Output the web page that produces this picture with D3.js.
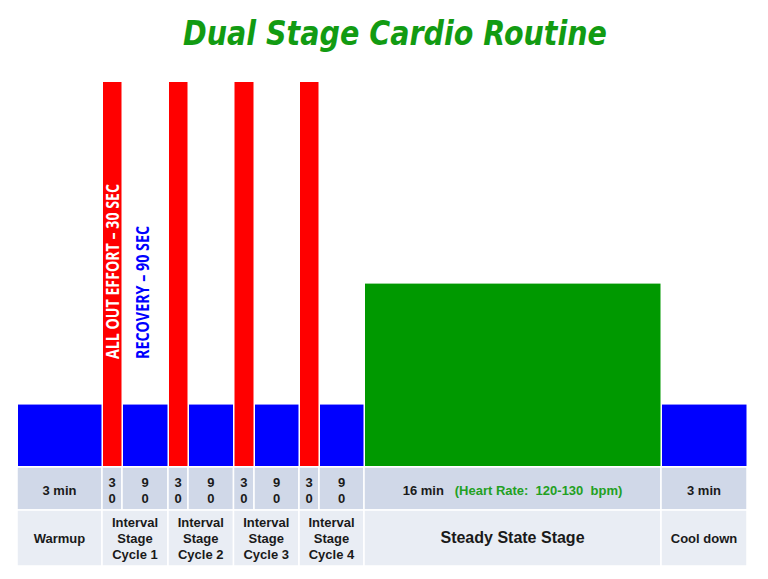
<!DOCTYPE html>
<html>
<head>
<meta charset="utf-8">
<script src="https://cdn.jsdelivr.net/npm/d3@7"></script>
<style>
  html, body { margin: 0; padding: 0; background: #fff; }
  svg { display: block; }
</style>
</head>
<body>
<svg id="chart" width="768" height="579"></svg>
<script>
// ---------------- data ----------------
const title = "Dual Stage Cardio Routine";
const phases = ["warmup","effort","recovery","effort","recovery","effort","recovery","effort","recovery","steady","cooldown"];
const durationsSec = [180, 30, 90, 30, 90, 30, 90, 30, 90, 960, 180];
const intensity = [16, 100, 16, 100, 16, 100, 16, 100, 16, 47.5, 16];
const durationLabels = ["3 min","30","90","30","90","30","90","30","90","16 min","3 min"];
const stageNames = [["Warmup"],["Interval","Stage","Cycle 1"],["Interval","Stage","Cycle 2"],["Interval","Stage","Cycle 3"],["Interval","Stage","Cycle 4"],["Steady State Stage"],["Cool down"]];
const stageSpans = [1, 2, 2, 2, 2, 1, 1];
const heartRateNote = "(Heart Rate:  120-130  bpm)";
const effortNote = "ALL OUT EFFORT \u2013 30 SEC";
const recoveryNote = "RECOVERY \u2013 90 SEC";

// ---------------- layout / style ----------------
const colors = { warmup: "#0000ff", effort: "#ff0000", recovery: "#0000ff", steady: "#009900", cooldown: "#0000ff" };
const svg = d3.select("#chart");

// cumulative time breakpoints (seconds)
const cum = [0];
durationsSec.forEach(d => cum.push(cum[cum.length - 1] + d));
// piecewise (polylinear) time scale: the chart gives short intervals more room
const x = d3.scaleLinear()
  .domain(cum)
  .range([17, 102, 122, 168, 188, 233.5, 254, 299, 319, 364, 661, 747]);
const y = d3.scaleLinear().domain([0, 100]).range([466, 82]);

const segs = phases.map((p, i) => ({ phase: p, start: cum[i], end: cum[i + 1], value: intensity[i], label: durationLabels[i] }));

// ---------------- title ----------------
svg.append("text")
  .attr("x", 395).attr("y", 45)
  .attr("text-anchor", "middle")
  .attr("font-family", "'DejaVu Sans', Verdana, sans-serif")
  .attr("font-weight", "bold").attr("font-style", "italic")
  .attr("font-size", 33)
  .attr("textLength", 424).attr("lengthAdjust", "spacingAndGlyphs")
  .attr("fill", "#129b12")
  .text(title);

// ---------------- bars ----------------
svg.append("g").selectAll("rect").data(segs).join("rect")
  .attr("x", d => x(d.start) + 1)
  .attr("width", d => x(d.end) - x(d.start) - 1.5)
  .attr("y", d => y(d.value))
  .attr("height", d => y(0) - y(d.value))
  .attr("fill", d => colors[d.phase]);

// rotated notes
const e1 = segs[1], r1 = segs[2];
svg.append("text")
  .attr("transform", `translate(${(x(e1.start) + x(e1.end)) / 2 + 6.5},359) rotate(-90)`)
  .attr("font-family", "'Liberation Sans Narrow', 'Open Sans', sans-serif")
  .attr("font-weight", "bold").attr("font-size", 17.5)
  .attr("textLength", 175).attr("lengthAdjust", "spacingAndGlyphs")
  .attr("fill", "#ffffff")
  .text(effortNote);
svg.append("text")
  .attr("transform", `translate(${(x(r1.start) + x(r1.end)) / 2 + 3.5},359) rotate(-90)`)
  .attr("font-family", "'Liberation Sans Narrow', 'Open Sans', sans-serif")
  .attr("font-weight", "bold").attr("font-size", 17.5)
  .attr("textLength", 133).attr("lengthAdjust", "spacingAndGlyphs")
  .attr("fill", "#0000ff")
  .text(recoveryNote);

// ---------------- table ----------------
const row1Top = 467, row1Bot = 510, row2Top = 510, row2Bot = 566;
const table = svg.append("g").attr("font-family", "Arial, 'Liberation Sans', sans-serif").attr("font-weight", "bold").attr("fill", "#1a1a1a");

// row 1 cells
table.selectAll("rect.r1").data(segs).join("rect")
  .attr("class", "r1")
  .attr("x", d => x(d.start)).attr("width", d => x(d.end) - x(d.start))
  .attr("y", row1Top).attr("height", row1Bot - row1Top)
  .attr("fill", "#d0d8e8").attr("stroke", "#ffffff").attr("stroke-width", 1.5);

// row 2 cells (stages)
let idx = 0;
const stages = stageSpans.map((n, i) => {
  const s = { name: stageNames[i], start: cum[idx], end: cum[idx + n] };
  idx += n; return s;
});
table.selectAll("rect.r2").data(stages).join("rect")
  .attr("class", "r2")
  .attr("x", d => x(d.start)).attr("width", d => x(d.end) - x(d.start))
  .attr("y", row2Top).attr("height", row2Bot - row2Top)
  .attr("fill", "#e9edf4").attr("stroke", "#ffffff").attr("stroke-width", 1.5);

// row 1 labels
segs.forEach((d, i) => {
  const cx = (x(d.start) + x(d.end)) / 2;
  if (d.phase === "effort" || d.phase === "recovery") {
    const digits = d.label.split("");
    table.append("text").attr("x", cx).attr("y", 487).attr("text-anchor", "middle").attr("font-size", 13).text(digits[0]);
    table.append("text").attr("x", cx).attr("y", 503).attr("text-anchor", "middle").attr("font-size", 13).text(digits[1]);
  } else if (d.phase === "steady") {
    const t = table.append("text").attr("x", cx).attr("y", 495).attr("text-anchor", "middle").attr("font-size", 13).attr("xml:space", "preserve");
    t.append("tspan").text(d.label + "   ");
    t.append("tspan").attr("fill", "#22a022").text(heartRateNote);
  } else {
    table.append("text").attr("x", cx).attr("y", 495).attr("text-anchor", "middle").attr("font-size", 13).text(d.label);
  }
});

// row 2 labels
stages.forEach(s => {
  const cx = (x(s.start) + x(s.end)) / 2;
  const lines = s.name;
  const big = lines[0] === "Steady State Stage";
  const fs = big ? 16 : 13;
  const lh = 15.7;
  const y0 = 543 - (lines.length - 1) * lh / 2;
  lines.forEach((ln, k) => {
    table.append("text").attr("x", cx).attr("y", y0 + k * lh).attr("text-anchor", "middle").attr("font-size", fs).text(ln);
  });
});
</script>
</body>
</html>
